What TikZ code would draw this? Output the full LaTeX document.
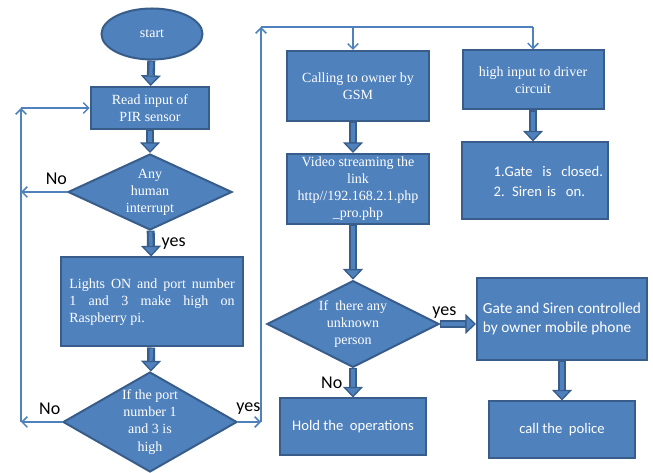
\documentclass[tikz,border=0pt]{standalone}
\usepackage{fontspec}
\setmainfont{Liberation Serif}
\newfontfamily\calfont{Carlito}
\usepackage{tikz}
\usetikzlibrary{positioning,arrows.meta,shapes.geometric}
\definecolor{boxfill}{HTML}{4F81BD}
\definecolor{boxline}{HTML}{385D8A}
\definecolor{wire}{HTML}{4F81BD}

\begin{document}
\begin{tikzpicture}[x=0.75pt, y=-0.75pt,
  box/.style={draw=boxline, line width=1.5pt, fill=boxfill, text=white, align=center, inner sep=2pt, font=\fontsize{10.5}{12.8}\selectfont},
  dec/.style={box, diamond, inner sep=0pt},
  sbox/.style={box, font=\calfont\fontsize{11}{15}\selectfont},
  arr/.style={draw=boxline, line width=6pt, -{Triangle[length=8pt, width=15pt, line width=1pt, fill=boxfill]}, postaction={draw=boxfill, line width=2.5pt, -, shorten >=8pt, shorten <=0.8pt}},
  lnk/.style={draw=wire, line width=1.1pt, -{Straight Barb[length=4pt, width=8pt]}},
  lab/.style={font=\calfont\fontsize{13.5}{15}\selectfont, inner sep=1pt}
]
\useasboundingbox (0,0) rectangle (653,473);
\node[box, ellipse, minimum width=75.75pt, minimum height=38.25pt] (start) at (152,34) {start};
\node[box, minimum width=89pt, minimum height=31.5pt] (read) at (150,108) {Read input of\\PIR sensor};
\node[dec, aspect=2.16, minimum width=123pt, minimum height=57pt] (human) at (150,192) {Any\\human\\interrupt};
\node[box, minimum width=136.5pt, minimum height=66.75pt, align=left] (lights) at (152,302) {\makebox[124pt][s]{Lights ON and port number}\\\makebox[124pt][s]{1 and 3 make high on}\\Raspberry pi.};
\node[dec, aspect=1.74, minimum width=130.5pt, minimum height=75pt] (port) at (150,422) {If the port\\number 1\\and 3 is\\high};
\node[box, minimum width=106.5pt, minimum height=52.5pt] (call) at (358,86) {Calling to owner by\\GSM};
\node[box, minimum width=106.5pt, minimum height=52.5pt] (video) at (358,189) {Video streaming the\\link\\http//192.168.2.1.php\\\_pro.php};
\node[dec, aspect=1.98, minimum width=129pt, minimum height=65pt] (person) at (353,324) {If~ there any\\unknown\\person};
\node[sbox, minimum width=110pt, minimum height=42.75pt] (hold) at (353,427) {Hold the~ operations};
\node[box, minimum width=105.75pt, minimum height=44.25pt] (high) at (533,80) {high input to driver\\circuit};
\node[sbox, minimum width=110pt, minimum height=57.75pt, align=left, text width=82pt, inner xsep=14pt] (status) at (535,181) {\hspace*{10pt}1.Gate~ is~ closed.\\\hspace*{10pt}2. Siren is~ on.};
\node[sbox, minimum width=127.5pt, minimum height=61.5pt, align=left, font=\calfont\fontsize{11.5}{14}\selectfont] (gate) at (562,319) {Gate and Siren controlled\\by owner mobile phone};
\node[sbox, minimum width=110pt, minimum height=42.75pt] (police) at (562,430) {call the~ police};
\coordinate (loopL) at (21,422);
\coordinate (loopR) at (261,422);
\coordinate (topL) at (261,27);
\draw[arr] (start) -- (read);
\draw[arr] (read) -- (human);
\draw[arr] (human) -- node[lab, right=4pt]{yes} (lights);
\draw[arr] (lights) -- (port);
\draw[arr] (call.south -| person.north) -- (video.north -| person.north);
\draw[arr] (video.south -| person.north) -- (person.north);
\draw[arr] (person) -- node[lab, left=4pt]{No} (hold);
\draw[arr] (person.east) -- node[lab, above, pos=0.12]{yes} (person.east -| gate.west);
\draw[arr] (high) -- (high.south |- status.north);
\draw[arr] (gate) -- (police);
\draw[lnk] (human.west) -- node[lab, above=4pt, pos=0.23]{No} (human.west -| loopL);
\draw[lnk] (port.west) -- node[lab, above=4pt, pos=0.3]{No} (loopL);
\draw[lnk] (loopL) -- (read.west -| loopL);
\draw[lnk] (read.west -| loopL) -- (read.west);
\draw[lnk] (port.east) -- node[lab, above=4pt, pos=0.45]{yes} (loopR);
\draw[lnk] (loopR) -- (topL);
\draw[draw=wire, line width=1.1pt] (topL) -- (topL -| high.north);
\draw[lnk] (topL -| person.north) -- (person.north |- call.north);
\draw[lnk] (topL -| high.north) -- (high.north);
\end{tikzpicture}
\end{document}
